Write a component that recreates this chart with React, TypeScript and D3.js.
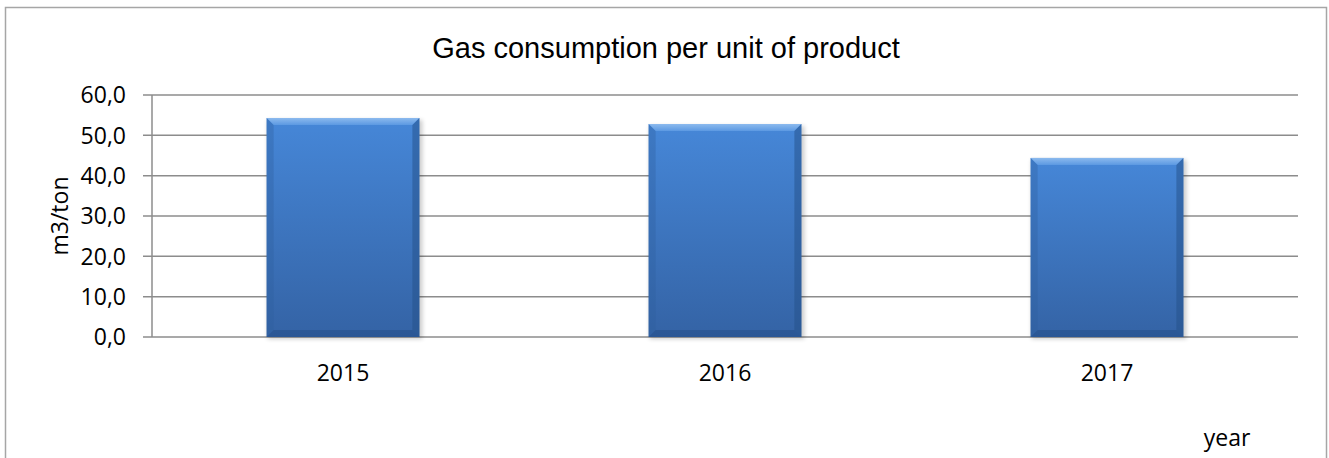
import React from "react";
import * as d3 from "d3";

const WIDTH = 1329;
const HEIGHT = 458;

const TITLE = "Gas consumption per unit of product";
const Y_LABEL = "m3/ton";
const X_LABEL = "year";

const years = ["2015", "2016", "2017"];
const values = [54.3, 52.8, 44.4];
const yTicks = [0, 10, 20, 30, 40, 50, 60];

const PLOT = { left: 152, right: 1298, top: 95, bottom: 337 };
const TICK_FONT = "'Open Sans', 'DejaVu Sans', sans-serif";
const TICK_SIZE = 23;

const fmt = (v: number) => v.toFixed(1).replace(".", ",");

function Bar({ x, y, w, h }: { x: number; y: number; w: number; h: number }) {
  const b = Math.min(7, h / 2); // bevel size
  return (
    <g>
      {/* soft shadow */}
      <rect x={x + 1} y={y + 2} width={w + 2} height={h} fill="#000" opacity={0.2} filter="url(#barShadow)" />
      <rect x={x} y={y} width={w} height={h} fill="url(#barFill)" />
      {/* top bevel */}
      <polygon points={`${x},${y} ${x + w},${y} ${x + w - b},${y + b} ${x + b},${y + b}`} fill="url(#bevelTop)" />
      {/* left bevel */}
      <polygon points={`${x},${y} ${x + b},${y + b} ${x + b},${y + h - b} ${x},${y + h}`} fill="#2f5f9e" opacity={0.35} />
      {/* right bevel */}
      <polygon points={`${x + w},${y} ${x + w},${y + h} ${x + w - b},${y + h - b} ${x + w - b},${y + b}`} fill="#244f88" opacity={0.5} />
      {/* bottom bevel */}
      <polygon points={`${x},${y + h} ${x + b},${y + h - b} ${x + w - b},${y + h - b} ${x + w},${y + h}`} fill="#244f88" opacity={0.55} />
    </g>
  );
}

export default function App() {
  const x = d3.scaleBand<string>().domain(years).range([PLOT.left, PLOT.right]).paddingInner(0.6).paddingOuter(0.3);
  const y = d3.scaleLinear().domain([0, 60]).range([PLOT.bottom, PLOT.top]);

  return (
    <svg width={WIDTH} height={HEIGHT} style={{ position: "absolute", left: 0, top: 0 }}>
      <defs>
        <linearGradient id="barFill" x1="0" y1="0" x2="0" y2="1">
          <stop offset="0%" stopColor="#4687d8" />
          <stop offset="100%" stopColor="#3463a5" />
        </linearGradient>
        <linearGradient id="bevelTop" x1="0" y1="0" x2="0" y2="1">
          <stop offset="0%" stopColor="#8cbaee" />
          <stop offset="100%" stopColor="#5c99e2" />
        </linearGradient>
        <filter id="barShadow" x="-10%" y="-10%" width="120%" height="120%">
          <feGaussianBlur stdDeviation="2" />
        </filter>
      </defs>
      <rect x={0} y={0} width={WIDTH} height={HEIGHT} fill="#fff" />
      <rect x={5.5} y={7.5} width={1321} height={470} fill="#fff" stroke="#a6a6a6" strokeWidth={1.5} />

      <text x={666} y={58} textAnchor="middle" fontFamily="'Liberation Sans', Arial, sans-serif" fontSize={29} fill="#000">
        {TITLE}
      </text>

      {/* gridlines + ticks */}
      {yTicks.map((t) => (
        <g key={t}>
          <line x1={PLOT.left - 9} x2={PLOT.right} y1={y(t)} y2={y(t)} stroke="#8c8c8c" strokeWidth={1.5} />
          <text x={126} y={y(t)} dy="0.36em" textAnchor="end" fontFamily={TICK_FONT} fontSize={TICK_SIZE} fill="#000">
            {fmt(t)}
          </text>
        </g>
      ))}
      <line x1={PLOT.left} x2={PLOT.left} y1={PLOT.top} y2={PLOT.bottom} stroke="#8c8c8c" strokeWidth={1.5} />

      {years.map((yr, i) => {
        const bx = x(yr) as number;
        const top = y(values[i]);
        return <Bar key={yr} x={bx} y={top} w={x.bandwidth()} h={PLOT.bottom - top} />;
      })}

      {years.map((yr) => (
        <text key={yr} x={(x(yr) as number) + x.bandwidth() / 2} y={373} dy="0.36em" textAnchor="middle" fontFamily={TICK_FONT} fontSize={TICK_SIZE} fill="#000">
          {yr}
        </text>
      ))}

      <text transform="translate(68,216) rotate(-90)" textAnchor="middle" fontFamily={TICK_FONT} fontSize={TICK_SIZE} fill="#000">
        {Y_LABEL}
      </text>
      <text x={1227} y={438} dy="0.36em" textAnchor="middle" fontFamily={TICK_FONT} fontSize={TICK_SIZE} fill="#000">
        {X_LABEL}
      </text>
    </svg>
  );
}
